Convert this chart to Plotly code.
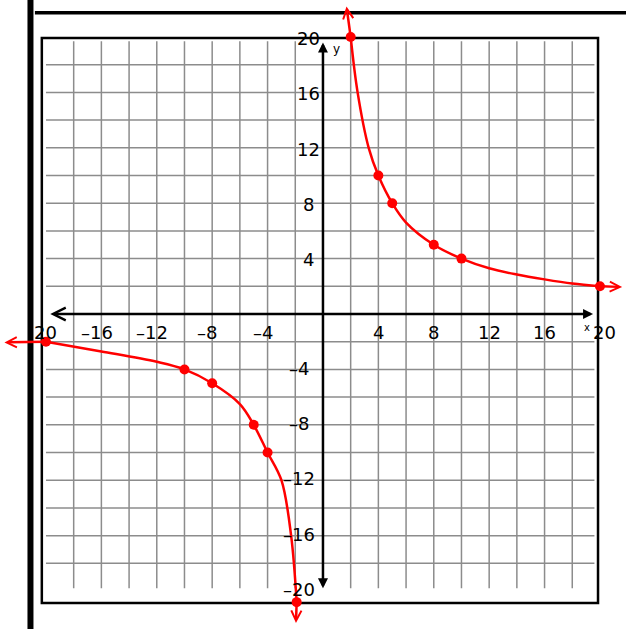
import plotly.graph_objects as go

# Marked points of y = 40/x
upper_x = [2, 4, 5, 8, 10, 20]
upper_y = [20, 10, 8, 5, 4, 2]
lower_x = [-20, -10, -8, -5, -4, -1.9]
lower_y = [-2, -4, -5, -8, -10, -20.8]

# Hand-drawn curve paths through the marked points
upper_curve_x = [2, 2.5, 3.3, 4, 5, 6, 8, 10, 12, 14, 16, 18, 20]
upper_curve_y = [20, 16, 12, 10, 8, 6.6, 5, 4, 3.3, 2.85, 2.5, 2.2, 2]
lower_curve_x = [-20, -16, -12, -10, -8, -6, -5, -4, -3, -2.3, -1.9]
lower_curve_y = [-2, -2.7, -3.45, -4, -5, -6.5, -8, -10, -12, -16, -20.8]

# Tick labels
x_tick_vals = [-20, -16, -12, -8, -4, 4, 8, 12, 16, 20]
x_tick_text = ["20", "–16", "–12", "–8", "–4", "4", "8", "12", "16", "20"]
y_tick_vals = [20, 16, 12, 8, 4, -4, -8, -12, -16, -20]
y_tick_text = ["20", "16", "12", "8", "4", "–4", "–8", "–12", "–16", "–20"]

RED = "#ff0000"
GRID = "#8c8c8c"
FONT = "DejaVu Sans"

fig = go.Figure()

# Curves
fig.add_trace(go.Scatter(x=upper_curve_x, y=upper_curve_y, mode="lines",
                         line=dict(color=RED, width=2.5, shape="spline"),
                         hoverinfo="skip"))
fig.add_trace(go.Scatter(x=lower_curve_x, y=lower_curve_y, mode="lines",
                         line=dict(color=RED, width=2.5, shape="spline"),
                         hoverinfo="skip"))
# Plotted points
fig.add_trace(go.Scatter(x=upper_x + lower_x, y=upper_y + lower_y, mode="markers",
                         marker=dict(color=RED, size=10)))

shapes = []
# Grid
for g in range(-18, 19, 2):
    if g == 0:
        continue
    shapes.append(dict(type="line", x0=g, x1=g, y0=-19.8, y1=19.7,
                       line=dict(color=GRID, width=1.5), layer="below"))
    shapes.append(dict(type="line", x0=-20, x1=19.6, y0=g, y1=g,
                       line=dict(color=GRID, width=1.5), layer="below"))
# Frame around the grid
shapes.append(dict(type="rect", x0=-20.3, x1=19.86, y0=-20.87, y1=19.93,
                   line=dict(color="black", width=2.5), layer="below"))
# Page rules
shapes.append(dict(type="line", x0=-21.12, x1=-21.12, y0=-23, y1=23,
                   line=dict(color="black", width=6), layer="above"))
shapes.append(dict(type="line", x0=-20.8, x1=22, y0=21.75, y1=21.75,
                   line=dict(color="black", width=3.5), layer="above"))

annotations = []
# Axes with arrowheads
annotations.append(dict(x=19.5, y=0, ax=-19.8, ay=0, xref="x", yref="y",
                        axref="x", ayref="y", text="", showarrow=True,
                        arrowhead=2, startarrowhead=5, arrowside="end+start",
                        arrowsize=0.8, startarrowsize=1.0,
                        arrowwidth=2.5, arrowcolor="black"))
annotations.append(dict(x=0, y=19.6, ax=0, ay=-19.9, xref="x", yref="y",
                        axref="x", ayref="y", text="", showarrow=True,
                        arrowhead=2, startarrowhead=2, arrowside="end+start",
                        arrowsize=0.8, startarrowsize=0.8,
                        arrowwidth=2.5, arrowcolor="black"))
# Curve end arrows
for (x0, y0, x1, y1) in [(2, 20, 1.7, 22.2), (20, 2, 21.6, 1.95),
                         (-20, -2, -23.0, -2.05), (-1.9, -20.8, -1.95, -22.3)]:
    annotations.append(dict(x=x1, y=y1, ax=x0, ay=y0, xref="x", yref="y",
                            axref="x", ayref="y", text="", showarrow=True,
                            arrowhead=5, arrowsize=0.8, arrowwidth=2.5,
                            arrowcolor=RED))

# Tick labels
for v, t in zip(x_tick_vals, x_tick_text):
    xx = v - 0.35 if v < 0 else v
    if v == 20:
        xx = 20.3
    if v == -20:
        xx = -20.0
    annotations.append(dict(x=xx, y=-1.35, xref="x", yref="y", text=t,
                            showarrow=False,
                            font=dict(family=FONT, size=18, color="black")))
for v, t in zip(y_tick_vals, y_tick_text):
    xx = -1.05 if v > 0 else -1.75
    annotations.append(dict(x=xx, y=v + (-0.1 if v > 0 else 0.1), xref="x", yref="y",
                            text=t, showarrow=False,
                            font=dict(family=FONT, size=18, color="black")))
# Axis names
annotations.append(dict(x=0.95, y=19.1, xref="x", yref="y", text="y",
                        showarrow=False, font=dict(family=FONT, size=12, color="black")))
annotations.append(dict(x=19.05, y=-0.95, xref="x", yref="y", text="x",
                        showarrow=False, font=dict(family=FONT, size=10, color="black")))

fig.update_layout(
    width=626, height=629,
    margin=dict(l=0, r=0, t=0, b=0),
    paper_bgcolor="white", plot_bgcolor="white",
    showlegend=False,
    xaxis=dict(range=[-23.32, 21.88], visible=False, fixedrange=True),
    yaxis=dict(range=[-22.74, 22.67], visible=False, fixedrange=True),
    shapes=shapes, annotations=annotations,
)

fig.write_html("out.html")
